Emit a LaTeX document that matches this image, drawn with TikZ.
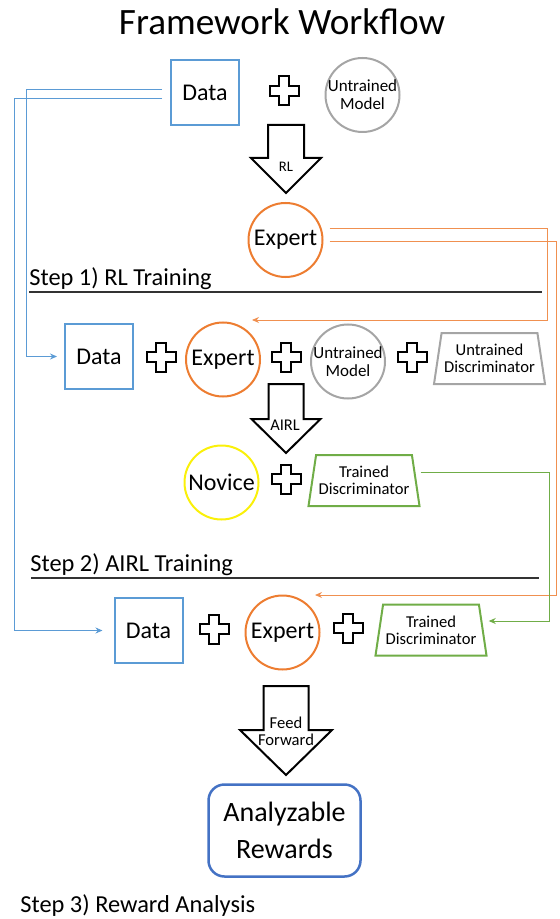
\documentclass[tikz,border=0pt]{standalone}
\usepackage{fontspec}
\setmainfont{Carlito}
\usetikzlibrary{arrows.meta,shapes.geometric,calc}

\definecolor{datablue}{RGB}{91,155,213}
\definecolor{exporange}{RGB}{237,125,49}
\definecolor{modgray}{RGB}{165,165,165}
\definecolor{novyellow}{RGB}{250,240,10}
\definecolor{discgreen}{RGB}{112,173,71}
\definecolor{rewblue}{RGB}{68,114,196}

\begin{document}
\begin{tikzpicture}[x=0.5pt,y=-0.5pt,>={Stealth[length=3.5pt,width=3pt]},
	databox/.style={draw=datablue,line width=1pt,minimum width=34pt,minimum height=32.5pt,font=\fontsize{12}{14}\selectfont},
	expcircle/.style={circle,draw=exporange,line width=1pt,minimum size=37pt,inner sep=0pt,font=\fontsize{12}{14}\selectfont},
	modcircle/.style={circle,draw=modgray,line width=1pt,minimum size=37pt,inner sep=-3pt,align=center,font=\fontsize{8.5}{9}\selectfont},
	novcircle/.style={expcircle,draw=novyellow},
	disc/.style={trapezium,trapezium left angle=77,trapezium right angle=77,trapezium stretches body=true,
		line width=1pt,minimum width=55.5pt,minimum height=25.5pt,inner sep=1pt,align=center,font=\fontsize{8.3}{8.6}\selectfont},
	rewbox/.style={draw=rewblue,line width=1.25pt,rounded corners=8pt,minimum width=76pt,minimum height=46pt,align=center,font=\fontsize{14}{18.5}\selectfont},
	plus/.style={draw=black,line width=1pt,fill=white},
	blockarrow/.style={draw=black,line width=1pt,fill=white,line join=miter},
	arrowlabel/.style={inner sep=0pt,align=center,font=\fontsize{8.2}{8.4}\selectfont},
	steplabel/.style={anchor=base west,inner sep=0pt,font=\fontsize{12.2}{14}\selectfont},
	rule/.style={black!80,line width=0.8pt},
	blueline/.style={draw=datablue,line width=0.5pt,->},
	orangeline/.style={draw=exporange!85,line width=0.5pt,->},
	greenline/.style={draw=discgreen,line width=0.5pt,->}]

	\useasboundingbox (0,0) rectangle (559,919);

	% Title
	\node[anchor=base,inner sep=0pt,font=\fontsize{18.6}{22}\selectfont] (title) at (282,35) {Framework Workflow};

	% Step 1: data and untrained model
	\node[databox] (dataA) at (205,92.5) {Data};
	\node[modcircle] (modelA) at (362.5,95) {Untrained\\Model};
	\node[expcircle] (expertA) at (285.5,240) {Expert};

	% Step 2: data, expert, model and discriminator
	\node[databox] (dataB) at (99,356.5) {Data};
	\node[expcircle] (expertB) at (223,359.5) {Expert};
	\node[modcircle] (modelB) at (348,361.5) {Untrained\\Model};
	\node[disc,draw=modgray] (discA) at (489.5,358.5) {Untrained\\Discriminator};
	\node[novcircle] (novice) at (221.5,482.5) {Novice};
	\node[disc,draw=discgreen] (discB) at (364,480.5) {Trained\\Discriminator};

	% Step 3: reward analysis
	\node[databox] (dataC) at (148.5,630.5) {Data};
	\node[expcircle] (expertC) at (282.5,632.5) {Expert};
	\node[disc,draw=discgreen] (discC) at (431,630) {Trained\\Discriminator};
	\node[rewbox] (rewards) at (284.5,830.5) {Analyzable\\Rewards};

	% The plus signs
	\foreach \x/\y in {284/91,161/357,286/357,412/357,286/479,214/629,348/628}
		\draw[plus,shift={(\x,\y)}] (-5,-14.5) -- (5,-14.5) -- (5,-5) -- (14.5,-5) -- (14.5,5) -- (5,5)
			-- (5,14.5) -- (-5,14.5) -- (-5,5) -- (-14.5,5) -- (-14.5,-5) -- (-5,-5) -- cycle;

	% The block arrows
	\foreach \t/\h/\b/\w/\hw in {125/158/193/18/35,384/419/453/17.5/34.5,686/730/775/22.5/46}
		\draw[blockarrow,shift={(286,0)}] (-\w,\t) -- (\w,\t) -- (\w,\h) -- (\hw,\h) -- (0,\b)
			-- (-\hw,\h) -- (-\w,\h) -- cycle;
	\node[arrowlabel,font=\fontsize{7.3}{8}\selectfont] (rl) at (286,167) {RL};
	\node[arrowlabel] (airl) at (285,425) {AIRL};
	\node[arrowlabel,font=\fontsize{8.3}{8.4}\selectfont] (ff) at (286,731) {Feed\\Forward};

	% Step labels and rules
	\node[steplabel] (stepA) at (29,285.5) {Step 1) RL Training};
	\draw[rule] (29,292) -- (542,292);
	\node[steplabel] (stepB) at (30,571) {Step 2) AIRL Training};
	\draw[rule] (31,578) -- (539,578);
	\node[steplabel] (stepC) at (20,912) {Step 3) Reward Analysis};

	% Connectors
	\coordinate (bluein) at (26,0);
	\coordinate (blueout) at (14,0);
	\coordinate (orangein) at (547,0);
	\coordinate (orangeout) at (556,0);
	\coordinate (greenx) at (549,0);
	\coordinate (expBin) at ([xshift=14.5pt,yshift=0.75pt]expertB.north);
	\coordinate (expCin) at ([xshift=16.25pt,yshift=-0.25pt]expertC.north);
	\coordinate (discCin) at ([yshift=4.5pt]discC.east);

	\draw[blueline,shorten <=4pt,shorten >=3.5pt] ([yshift=1.25pt]dataA.west) -| (bluein |- dataB.west) -- (dataB.west);
	\draw[blueline,shorten <=4pt,shorten >=5.5pt] ([yshift=-3.25pt]dataA.west) -| (blueout |- dataC.west) -- (dataC.west);
	\draw[orangeline,shorten <=3pt] ([yshift=5.5pt]expertA.east) -| (orangein |- expBin) -- (expBin);
	\draw[orangeline,shorten <=3pt] ([yshift=-1pt]expertA.east) -| (orangeout |- expCin) -- (expCin);
	\draw[greenline,shorten <=2pt,shorten >=2.5pt] ([yshift=4.25pt]discB.east) -| (greenx |- discCin) -- (discCin);
\end{tikzpicture}
\end{document}
